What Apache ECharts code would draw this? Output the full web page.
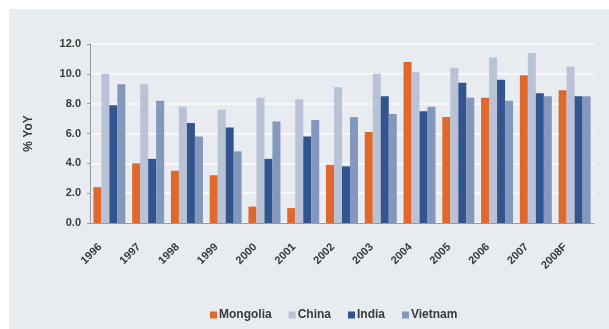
<!DOCTYPE html>
<html>
<head>
<meta charset="utf-8">
<script src="https://cdn.jsdelivr.net/npm/echarts@6/dist/echarts.min.js"></script>
<style>
body { margin: 0; background: #fff; }
#chart {
  position: absolute;
  left: 9px;
  top: 9px;
  width: 600px;
  height: 320px;
  background: #e8ebef;
}
</style>
</head>
<body>
<div id="chart"></div>
<script>
const years = ['1996', '1997', '1998', '1999', '2000', '2001', '2002', '2003', '2004', '2005', '2006', '2007', '2008F']
const mongolia = [2.4, 4.0, 3.5, 3.2, 1.1, 1.0, 3.9, 6.1, 10.8, 7.1, 8.4, 9.9, 8.9]
const china = [10.0, 9.3, 7.8, 7.6, 8.4, 8.3, 9.1, 10.0, 10.1, 10.4, 11.1, 11.4, 10.5]
const india = [7.9, 4.3, 6.7, 6.4, 4.3, 5.8, 3.8, 8.5, 7.5, 9.4, 9.6, 8.7, 8.5]
const vietnam = [9.3, 8.2, 5.8, 4.8, 6.8, 6.9, 7.1, 7.3, 7.8, 8.4, 8.2, 8.5, 8.5]

const textColor = '#3a3a3a'
const font = 'Liberation Sans, Arial, sans-serif'

function bar (name, data, color) {
  return {
    name: name,
    type: 'bar',
    data: data,
    barWidth: 8,
    barGap: '0%',
    itemStyle: { color: color }
  }
}

const chart = echarts.init(document.getElementById('chart'))
chart.setOption({
  animation: false,
  textStyle: { fontFamily: font },
  grid: { left: 81, top: 35, right: 15, bottom: 106 },
  xAxis: {
    type: 'category',
    data: years,
    axisLine: { lineStyle: { color: '#9a9a9a' } },
    axisTick: { length: 3, lineStyle: { color: '#9a9a9a' } },
    axisLabel: {
      rotate: 45,
      margin: 13,
      padding: [0, 13, 0, 0],
      fontSize: 11,
      fontWeight: 'bold',
      color: textColor
    }
  },
  yAxis: {
    type: 'value',
    min: 0,
    max: 12,
    interval: 2,
    name: '% YoY',
    nameLocation: 'middle',
    nameGap: 55,
    nameTextStyle: { fontSize: 12, fontWeight: 'bold', color: textColor },
    axisLine: { show: true, lineStyle: { color: '#9a9a9a' } },
    axisTick: { show: true, length: 3, lineStyle: { color: '#9a9a9a' } },
    axisLabel: {
      fontSize: 11,
      fontWeight: 'bold',
      color: textColor,
      margin: 9,
      formatter: v => v.toFixed(1)
    },
    splitLine: { lineStyle: { color: '#f7f8fa', width: 2 } }
  },
  legend: {
    bottom: 3,
    left: 196,
    icon: 'rect',
    itemWidth: 7,
    itemHeight: 7,
    itemGap: 17,
    textStyle: { fontSize: 12, fontWeight: 'bold', color: textColor, padding: [0, 0, 0, -3] }
  },
  series: [
    bar('Mongolia', mongolia, '#e0682c'),
    bar('China', china, '#b9c2d6'),
    bar('India', india, '#32548f'),
    bar('Vietnam', vietnam, '#8497bd')
  ]
})
</script>
</body>
</html>
